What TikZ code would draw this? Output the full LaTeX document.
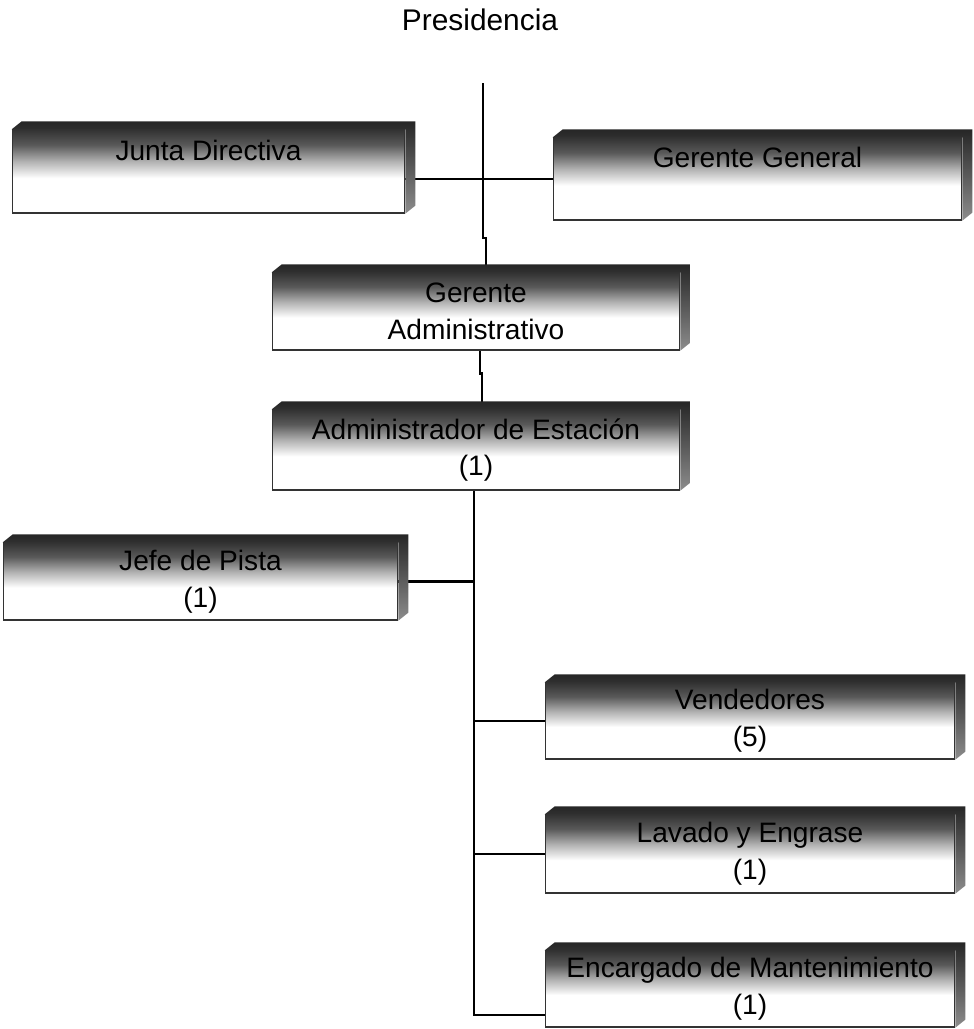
\documentclass[tikz,border=0pt]{standalone}
\usepackage{fontspec}
\setmainfont{Liberation Sans}
\usetikzlibrary{backgrounds}

\pgfdeclareverticalshading{banda}{100bp}{color(0bp)=(white); color(46bp)=(white); color(56bp)=(black!30); color(66bp)=(black!65); color(75bp)=(black!80); color(100bp)=(black!80)}

\newcommand{\cargofont}{\fontsize{16}{21}\selectfont}
% cara lateral y superior de cada caja
\newcommand{\relieve}[1]{%
  \shade[top color=black!85, bottom color=black!45]
    (#1.north west) -- ([shift={(10,-8)}]#1.north west) -- ([shift={(10,-8)}]#1.north east)
    -- ([shift={(10,-8)}]#1.south east) -- (#1.south east) -- (#1.north east) -- cycle;}

\tikzset{
  cargo/.style={rectangle, draw=black!80, line width=0.6pt, shading=banda,
    align=center, font=\cargofont, inner sep=0pt},
  linea/.style={line width=1.5pt, black}
}

\begin{document}
\begin{tikzpicture}[x=0.02cm, y=-0.02cm]
  \useasboundingbox (0,0) rectangle (974,1029);

  \node[font=\fontsize{17}{20}\selectfont] (pres) at (480,20) {Presidencia};
  \coordinate (arriba) at (483,83);

  \node[cargo, minimum width=7.86cm, minimum height=1.66cm] (junta) at (208.5,171.5) {Junta Directiva\\\phantom{(1)}};
  \node[cargo, minimum width=8.18cm, minimum height=1.64cm] (gg) at (757.5,179) {Gerente General\\\phantom{(1)}};
  \node[cargo, minimum width=8.16cm, minimum height=1.54cm] (gadm) at (476,311.5) {Gerente\\Administrativo};
  \node[cargo, minimum width=8.16cm, minimum height=1.60cm] (admest) at (476,450) {Administrador de Estación\\(1)};
  \node[cargo, minimum width=7.90cm, minimum height=1.54cm] (jefe) at (200.5,581.5) {Jefe de Pista\\(1)};
  \node[cargo, minimum width=8.20cm, minimum height=1.52cm] (vend) at (750,721) {Vendedores\\(5)};
  \node[cargo, minimum width=8.20cm, minimum height=1.56cm] (lavado) at (750,854) {Lavado y Engrase\\(1)};
  \node[cargo, minimum width=8.20cm, minimum height=1.52cm] (encarg) at (750,989) {Encargado de Mantenimiento\\(1)};

  \relieve{junta} \relieve{gg} \relieve{gadm} \relieve{admest}
  \relieve{jefe} \relieve{vend} \relieve{lavado} \relieve{encarg}

  \begin{scope}[on background layer]
    \draw[linea] (arriba) -- ++(0,155) -- ++(3,0) coordinate (j1) -- (j1 |- gadm.north);
    \draw[linea] (junta.east |- gg.west) -- (gg.west);
    \draw[linea] ([xshift=0.08cm]gadm.south) -- ++(0,23) -- ++(2,0) coordinate (j2) -- (j2 |- admest.north);
    \coordinate (fin) at (474,1015);
    \draw[linea] (admest.south -| fin) -- (fin) -- (fin -| encarg.west);
    \draw[linea] (jefe.east) -- (jefe.east -| fin);
    \draw[linea] (vend.west) -- (vend.west -| fin);
    \draw[linea] (lavado.west) -- (lavado.west -| fin);
  \end{scope}
\end{tikzpicture}
\end{document}
